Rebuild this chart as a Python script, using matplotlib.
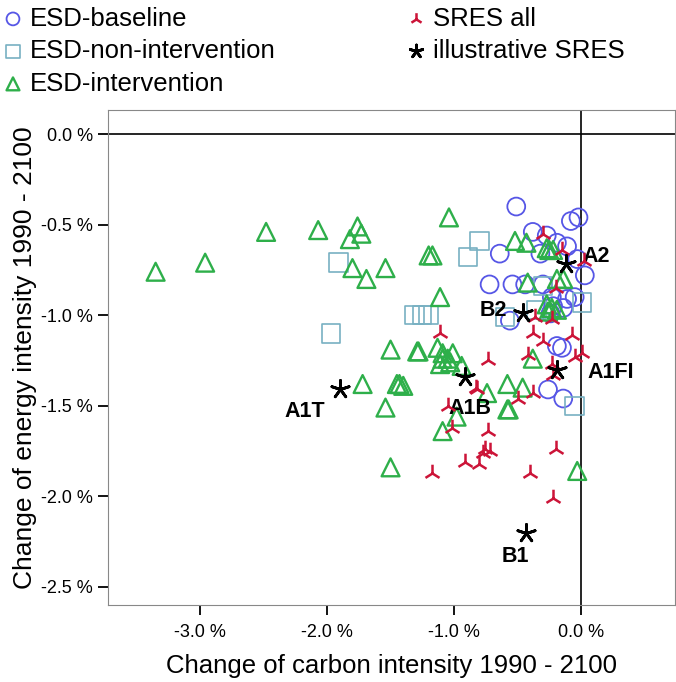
import matplotlib.pyplot as plt

plt.rcParams['font.family'] = ['Liberation Sans', 'DejaVu Sans']

# change of carbon intensity (x, % per year) and energy intensity (y, % per year)
base_x = [-0.51, -0.08, -0.02, -0.38, -0.27, -0.19, -0.11, -0.64, -0.32, -0.03, 0.03,
          -0.72, -0.54, -0.44, -0.30, -0.23, -0.11, -0.05, -0.22, -0.14, -0.24, -0.56,
          -0.19, -0.15, -0.26, -0.14]
base_y = [-0.40, -0.48, -0.46, -0.54, -0.56, -0.60, -0.62, -0.66, -0.66, -0.69, -0.78,
          -0.83, -0.83, -0.83, -0.83, -0.90, -0.91, -0.90, -0.95, -0.96, -0.99, -1.03,
          -1.17, -1.18, -1.41, -1.46]

nonint_x = [-1.91, -1.97, -1.31, -1.25, -1.20, -0.80, -0.89, 0.01, -0.30, -0.35, -0.60, -0.05]
nonint_y = [-0.71, -1.10, -1.00, -1.00, -1.00, -0.59, -0.68, -0.93, -0.84, -0.97, -1.01, -1.50]

int_x = [-3.35, -2.96, -2.48, -2.07, -1.76, -1.82, -1.73, -1.80, -1.69, -1.54, -1.29,
         -1.72, -1.45, -1.43, -1.54, -1.50, -1.04, -1.20, -1.17, -0.52, -0.43, -0.27,
         -0.25, -0.22, -0.42, -0.19, -0.14, -0.27, -0.23, -0.19, -0.26, -1.11, -1.28,
         -1.13, -1.09, -1.01, -1.09, -1.05, -1.11, -1.03, -0.94, -1.40, -0.58, -0.46,
         -0.58, -0.38, -0.98, -1.09, -0.74, -0.57, -0.03, -1.50]
int_y = [-0.76, -0.71, -0.54, -0.53, -0.51, -0.58, -0.55, -0.74, -0.80, -0.74, -1.20,
         -1.38, -1.38, -1.38, -1.51, -1.84, -0.46, -0.67, -0.67, -0.59, -0.60, -0.63,
         -0.64, -0.64, -0.82, -0.80, -0.80, -0.94, -0.96, -0.97, -0.98, -0.90, -1.20,
         -1.18, -1.21, -1.21, -1.24, -1.24, -1.27, -1.26, -1.28, -1.39, -1.38, -1.40,
         -1.52, -1.24, -1.56, -1.64, -1.43, -1.52, -1.86, -1.19]

sres_x = [-0.30, -0.15, 0.02, -0.20, -0.36, -0.23, -0.38, -0.30, -0.07, -0.42, -0.05,
          0.01, -1.11, -0.73, -0.23, -0.22, -0.83, -0.50, -0.38, -1.05, -0.82, -1.02,
          -0.73, -0.76, -0.72, -0.77, -0.91, -0.80, -1.17, -0.40, -0.20, -0.22]
sres_y = [-0.55, -0.64, -0.70, -0.85, -1.01, -1.02, -1.10, -1.14, -1.11, -1.22, -1.23,
          -1.21, -1.10, -1.25, -1.27, -1.33, -1.40, -1.46, -1.43, -1.50, -1.41, -1.62,
          -1.64, -1.74, -1.75, -1.76, -1.81, -1.82, -1.87, -1.87, -1.74, -2.01]

illus_names = ['A1T', 'A1B', 'B2', 'A2', 'A1FI', 'B1']
illus_x = [-1.90, -0.91, -0.46, -0.12, -0.19, -0.43]
illus_y = [-1.41, -1.34, -0.99, -0.72, -1.30, -2.20]

blue = '#5656e6'
teal = '#78b0c2'
green = '#2eaf4a'
red = '#cc1438'

fig = plt.figure(figsize=(6.76, 6.82), dpi=100)
ax = fig.add_axes([108 / 676, 77 / 682, 567 / 676, 495 / 682])

ax.axhline(0, color='black', lw=1.2, zorder=1)
ax.axvline(0, color='black', lw=1.2, zorder=1)

h1 = ax.scatter(base_x, base_y, s=165, marker='o', facecolors='none', edgecolors=blue, lw=1.3, zorder=3)
h2 = ax.scatter(nonint_x, nonint_y, s=175, marker='s', facecolors='none', edgecolors=teal, lw=1.2, zorder=3)
h3 = ax.scatter(int_x, int_y, s=165, marker='^', facecolors='none', edgecolors=green, lw=1.7, zorder=3)
h4 = ax.scatter(sres_x, sres_y, s=160, marker='2', color=red, lw=1.8, zorder=4)
h5 = ax.scatter(illus_x, illus_y, s=170, marker=(5, 2, 0), color='black', lw=2, zorder=5)

# label offsets (points) for the illustrative scenarios
offsets = {'A1T': (-40, -16), 'A1B': (-12, -23), 'B2': (-31, 2), 'A2': (12, 6),
           'A1FI': (22, -2), 'B1': (-18, -17)}
for name, x, y in zip(illus_names, illus_x, illus_y):
    ax.annotate(name, (x, y), xytext=offsets[name], textcoords='offset points',
                fontsize=15.5, fontweight='bold', ha='left', va='center')

ax.set_xlim(-3.725, 0.74)
ax.set_ylim(-2.60, 0.133)
ax.set_xticks([-3, -2, -1, 0])
ax.set_xticklabels(['-3.0 %', '-2.0 %', '-1.0 %', '0.0 %'])
ax.set_yticks([0, -0.5, -1, -1.5, -2, -2.5])
ax.set_yticklabels(['0.0 %', '-0.5 %', '-1.0 %', '-1.5 %', '-2.0 %', '-2.5 %'])
ax.tick_params(labelsize=13, length=7, width=1.3, direction='out', pad=4)
ax.tick_params(axis='x', pad=7)
for sp in ax.spines.values():
    sp.set_color('#888888')
ax.set_xlabel('Change of carbon intensity 1990 - 2100', fontsize=18.5, labelpad=9)
ax.set_ylabel('Change of energy intensity 1990 - 2100', fontsize=19, labelpad=3)

leg1 = fig.legend([h1, h2, h3], ['ESD-baseline', 'ESD-non-intervention', 'ESD-intervention'],
                  loc='upper left', bbox_to_anchor=(0.004, 0.994), frameon=False, fontsize=18.5,
                  handlelength=0.6, handletextpad=0.35, labelspacing=0.33, borderpad=0.1,
                  borderaxespad=0.0, markerscale=0.72)
leg2 = fig.legend([h4, h5], ['SRES all', 'illustrative SRES'],
                  loc='upper left', bbox_to_anchor=(0.6, 0.994), frameon=False, fontsize=18.5,
                  handlelength=0.6, handletextpad=0.35, labelspacing=0.33, borderpad=0.1,
                  borderaxespad=0.0, markerscale=0.72)

fig.savefig('out.png', dpi=100)
